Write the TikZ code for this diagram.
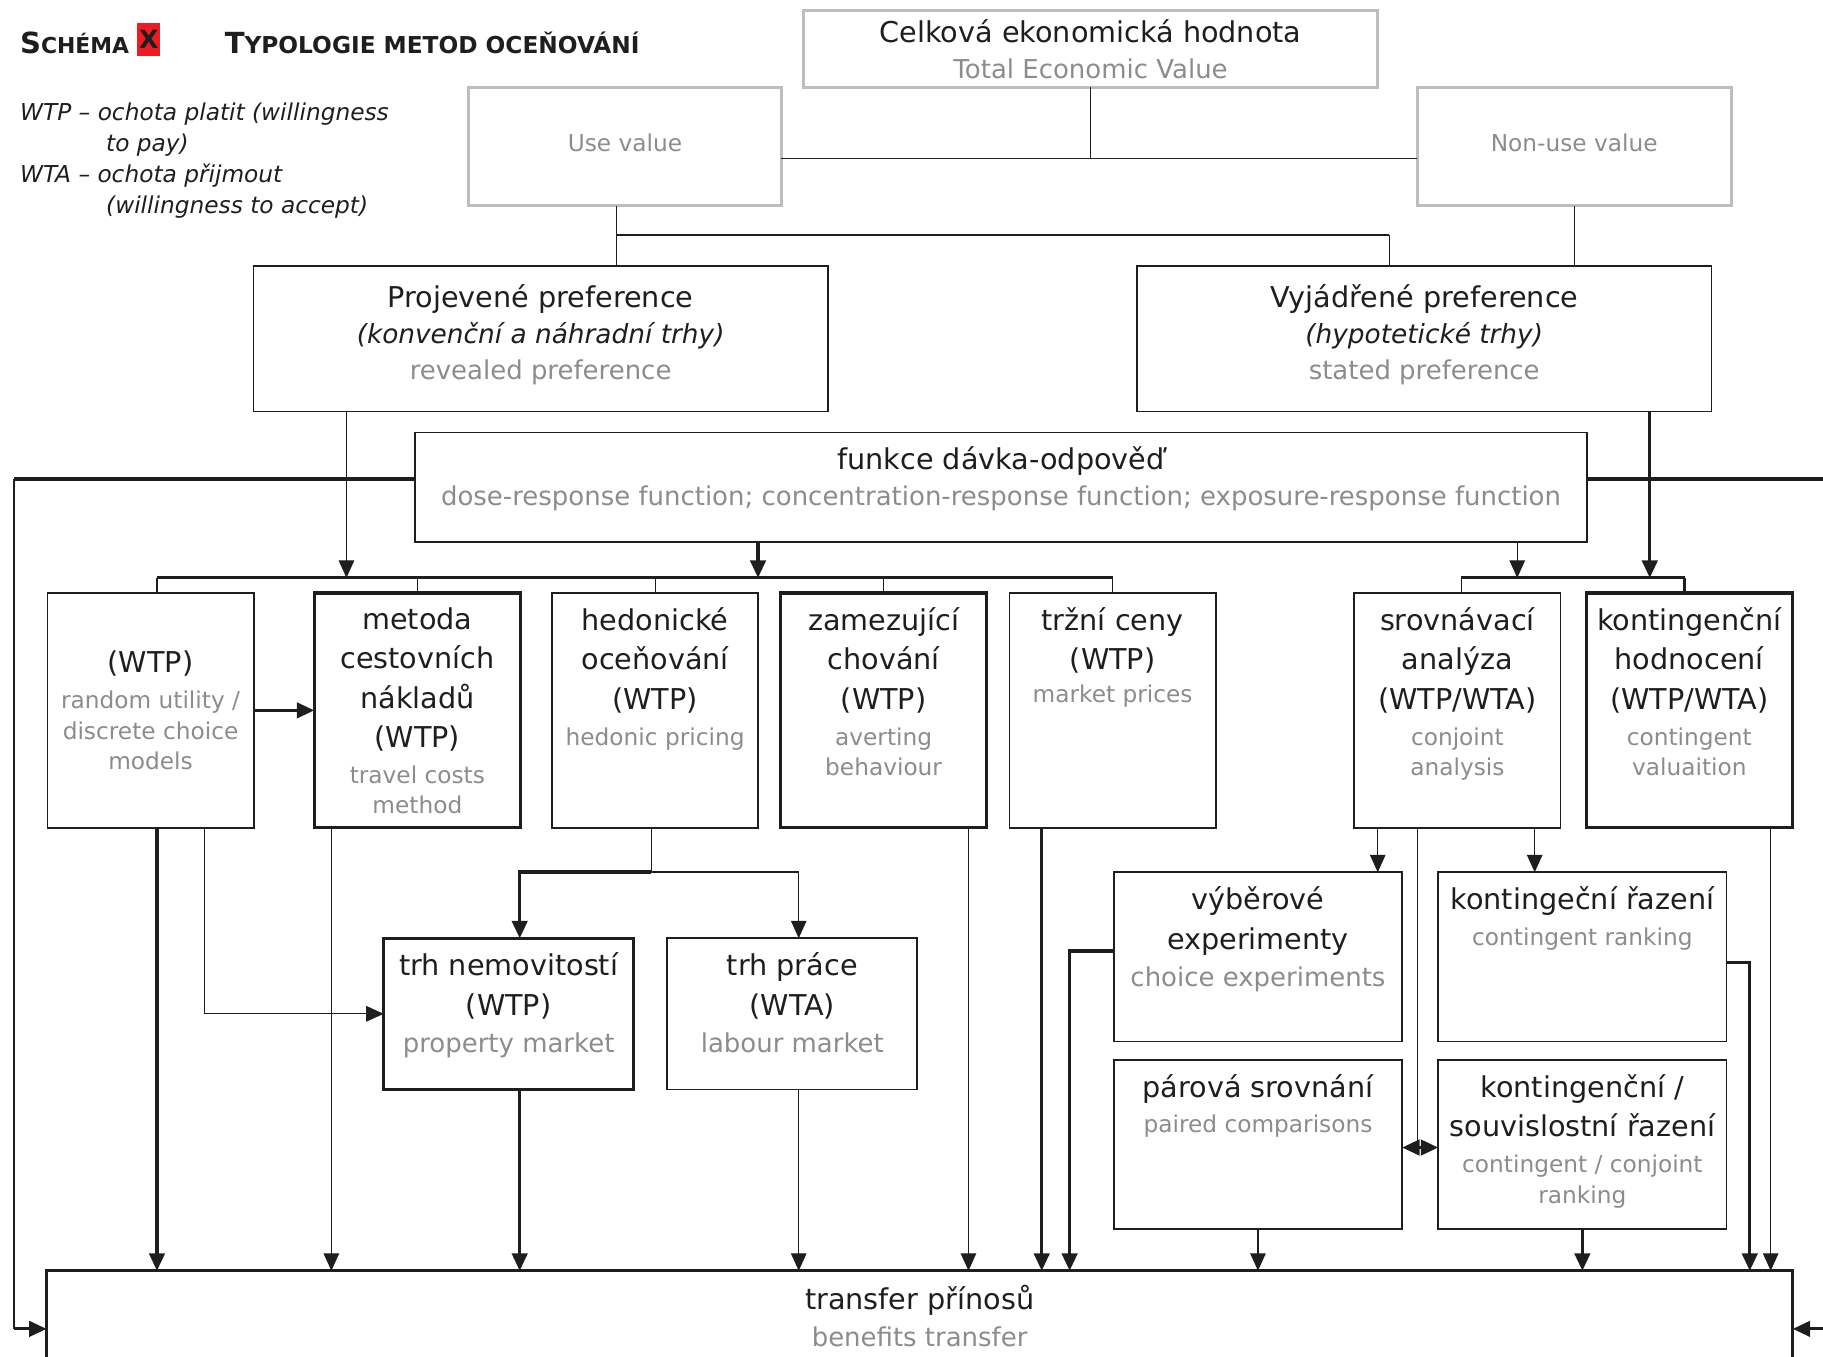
\documentclass[tikz,border=0pt]{standalone}
\usepackage{fontspec}
\setmainfont{DejaVu Sans}
\usepackage{xcolor}
\usepackage{tikz}
\usetikzlibrary{arrows.meta,positioning}

\definecolor{ink}{RGB}{30,30,30}
\definecolor{engray}{RGB}{140,140,140}
\definecolor{valgray}{RGB}{190,190,190}
\definecolor{schemared}{RGB}{237,28,36}

\newcommand{\en}[1]{{\color{engray}\fontsize{12}{15}\selectfont #1}}
\newcommand{\enl}[1]{{\color{engray}\fontsize{13.4}{16}\selectfont #1}}
\newcommand{\czit}[1]{{\itshape\fontsize{13.6}{16}\selectfont #1}}
\newcommand{\capsmall}[3][12]{{\fontsize{15}{18}\selectfont #2}{\fontsize{#1}{14}\selectfont #3}}

\begin{document}
\begin{tikzpicture}[
    x=0.6pt, y=-0.6pt,
    box/.style={rectangle, draw=ink, line width=0.9pt, inner sep=0pt, outer sep=0pt, align=center, text=ink, font=\fontsize{14.8}{20.4}\selectfont},
    valbox/.style={box, draw=valgray, line width=1.4pt},
    heavy/.style={line width=1.6pt},
    methodbox/.style={box, minimum width=106.5pt, minimum height=121.2pt},
    marketbox/.style={box, minimum width=129pt, minimum height=78pt},
    rankbox/.style={box, minimum width=148.8pt, minimum height=87.3pt},
    txt/.style={align=center, inner sep=0pt, text=ink, font=\fontsize{14.8}{20.4}\selectfont},
    wire/.style={draw=ink, line width=0.6pt},
    bus/.style={draw=ink, line width=1.6pt},
    arrow/.style={wire, -{Triangle[length=9pt, width=8pt]}},
    tarrow/.style={bus, -{Triangle[length=9pt, width=8pt]}}
]
    \useasboundingbox (0,0) rectangle (1568,1167);
    \clip (0,0) rectangle (1568,1167);

    % Heading and legend
    \node[anchor=base west, inner sep=0pt, text=ink, font=\bfseries] (schema) at (17,46) {\capsmall[11.3]{S}{CHÉMA}};
    \node[fill=schemared, inner sep=0pt, minimum width=12pt, minimum height=16.8pt, text=ink, font=\bfseries\fontsize{13}{15}\selectfont] (xmark) at (128,34) {X};
    \node[anchor=base west, inner sep=0pt, text=ink, font=\bfseries] (title) at (193,46) {\capsmall{T}{YPOLOGIE METOD OCEŇOVÁNÍ}};
    \node[anchor=north west, align=left, inner sep=0pt, text=ink, font=\itshape\fontsize{12}{16}\selectfont] (legend) at (17,88) {WTP – ochota platit (willingness\\\hspace*{44.4pt}to pay)\\WTA – ochota přijmout\\\hspace*{44.4pt}(willingness to accept)};

    % Top layer - total economic value
    \node[valbox, minimum width=296.4pt, minimum height=39.6pt] (tev) at (938,42) {Celková ekonomická hodnota\\[-1.8pt]\enl{Total Economic Value}};
    \node[valbox, minimum width=161.4pt, minimum height=61.2pt] (use) at (537.5,126) {};
    \node[txt, yshift=1.8pt] (use-t) at (use.center) {\en{Use value}};
    \node[valbox, minimum width=162pt, minimum height=61.2pt] (nonuse) at (1354,126) {};
    \node[txt, yshift=1.8pt] (nonuse-t) at (nonuse.center) {\en{Non-use value}};

    % Preference layer
    \node[box, minimum width=296.4pt, minimum height=75pt] (proj) at (465,291.5) {};
    \node[txt, below=9pt of proj.north] (proj-t) {Projevené preference\\[-1.8pt]\czit{(konvenční a náhradní trhy)}\\[-1.8pt]\enl{revealed preference}};
    \node[box, minimum width=296.4pt, minimum height=75pt] (vyj) at (1225,291.5) {};
    \node[txt, below=9pt of vyj.north] (vyj-t) {Vyjádřené preference\\[-1.8pt]\czit{(hypotetické trhy)}\\[-1.8pt]\enl{stated preference}};
    \node[box, minimum width=604.8pt, minimum height=56.4pt] (dose) at (861,419) {};
    \node[txt, below=7.2pt of dose.north] (dose-t) {funkce dávka-odpověď\\[-1.8pt]\enl{dose-response function; concentration-response function; exposure-response function}};

    % Method layer
    \node[methodbox] (wtp) at (129.5,611) {(WTP)\\[-1.8pt]\en{random utility /}\\[-4.8pt]\en{discrete choice}\\[-4.8pt]\en{models}};
    \node[methodbox, heavy] (tcm) at (359,611) {};
    \node[txt, below=7.2pt of tcm.north] (tcm-t) {metoda\\cestovních\\nákladů\\(WTP)\\[-1.8pt]\en{travel costs}\\[-4.8pt]\en{method}};
    \node[methodbox] (hed) at (563.5,611) {};
    \node[txt, below=7.2pt of hed.north] (hed-t) {hedonické\\oceňování\\(WTP)\\[-1.8pt]\en{hedonic pricing}};
    \node[methodbox, heavy] (avert) at (760,611) {};
    \node[txt, below=7.2pt of avert.north] (avert-t) {zamezující\\chování\\(WTP)\\[-1.8pt]\en{averting}\\[-4.8pt]\en{behaviour}};
    \node[methodbox] (market) at (957,611) {};
    \node[txt, below=7.2pt of market.north] (market-t) {tržní ceny\\(WTP)\\[-3.6pt]\en{market prices}};
    \node[methodbox] (conj) at (1253.5,611) {};
    \node[txt, below=7.2pt of conj.north] (conj-t) {srovnávací\\analýza\\(WTP/WTA)\\[-1.8pt]\en{conjoint}\\[-4.8pt]\en{analysis}};
    \node[methodbox, heavy] (cv) at (1453,611) {};
    \node[txt, below=7.2pt of cv.north] (cv-t) {kontingenční\\hodnocení\\(WTP/WTA)\\[-1.8pt]\en{contingent}\\[-4.8pt]\en{valuaition}};

    % Hedonic markets
    \node[marketbox, heavy] (prop) at (437.5,872) {};
    \node[txt, below=7.2pt of prop.north] (prop-t) {trh nemovitostí\\(WTP)\\[-1.2pt]\enl{property market}};
    \node[marketbox] (labour) at (681.5,872) {};
    \node[txt, below=7.2pt of labour.north] (labour-t) {trh práce\\(WTA)\\[-1.2pt]\enl{labour market}};

    % Stated preference techniques
    \node[rankbox] (choice) at (1082,823) {};
    \node[txt, below=7.2pt of choice.north] (choice-t) {výběrové\\experimenty\\[-1.2pt]\enl{choice experiments}};
    \node[rankbox] (crank) at (1361,823) {};
    \node[txt, below=7.2pt of crank.north] (crank-t) {kontingeční řazení\\[-1.8pt]\en{contingent ranking}};
    \node[rankbox] (paired) at (1082,984.5) {};
    \node[txt, below=7.2pt of paired.north] (paired-t) {párová srovnání\\[-2.4pt]\en{paired comparisons}};
    \node[rankbox] (ccrank) at (1361,984.5) {};
    \node[txt, below=7.2pt of ccrank.north] (ccrank-t) {kontingenční /\\souvislostní řazení\\[-1.8pt]\en{contingent / conjoint}\\[-4.8pt]\en{ranking}};

    % Bottom layer
    \node[box, heavy, minimum width=901.2pt, minimum height=60pt] (transfer) at (791,1143) {};
    \node[txt, below=7.2pt of transfer.north] (transfer-t) {transfer přínosů\\[-1.2pt]\enl{benefits transfer}};

    % Junction points
    \coordinate (tj) at (943,136);
    \coordinate (uj) at (530,202);
    \coordinate (uk) at (1195,202);
    \coordinate (bl) at (135,497);
    \coordinate (br) at (957,497);
    \coordinate (sl) at (1257,497);
    \coordinate (sr) at (1449,497);
    \coordinate (pa) at (298,0);
    \coordinate (da) at (652,0);
    \coordinate (db) at (1305,0);
    \coordinate (va) at (1419,0);
    \coordinate (dl) at (12,412);
    \coordinate (dr) at (1590,412);
    \coordinate (wa) at (176,0);
    \coordinate (hj) at (560,750);
    \coordinate (pj) at (447,750);
    \coordinate (lj) at (687,750);
    \coordinate (cj) at (1185,0);
    \coordinate (rj) at (1320,0);
    \coordinate (mj) at (1219,987);
    \coordinate (ta) at (285,0);
    \coordinate (tb) at (833,0);
    \coordinate (tc) at (896,0);
    \coordinate (td) at (920,818);
    \coordinate (te) at (1505,828);
    \coordinate (tf) at (1523,0);

    % Value tree
    \draw[wire] (use.east |- tj) -- (nonuse.west |- tj);
    \draw[wire] (tev.south) -- (tev.south |- tj);
    \draw[wire] (uj |- use.south) -- (uj |- proj.north);
    \draw[wire, line width=1pt] (uj) -- (uk);
    \draw[wire] (uk) -- (uk |- vyj.north);
    \draw[wire] (nonuse.south) -- (nonuse.south |- vyj.north);

    % Bars above the methods
    \draw[bus] (bl) -- (br);
    \draw[bus] (sl) -- (sr);
    \draw[wire] (bl) -- (bl |- wtp.north);
    \draw[wire] (tcm.north) -- (tcm.north |- bl);
    \draw[wire] (hed.north) -- (hed.north |- bl);
    \draw[wire] (avert.north) -- (avert.north |- bl);
    \draw[wire] (br) -- (br |- market.north);
    \draw[wire] (sl) -- (sl |- conj.north);
    \draw[bus] (sr) -- (sr |- cv.north);
    \draw[arrow] (pa |- proj.south) -- (pa |- bl);
    \draw[tarrow] (da |- dose.south) -- (da |- bl);
    \draw[arrow] (db |- dose.south) -- (db |- sl);
    \draw[tarrow] (va |- vyj.south) -- (va |- sl);

    % Dose-response links to benefits transfer
    \draw[bus] (dose.west |- dl) -- (dl);
    \draw[wire] (dl) -- (dl |- transfer.west);
    \draw[tarrow] (dl |- transfer.west) -- (transfer.west);
    \draw[bus] (dose.east |- dr) -- (dr);
    \draw[tarrow] (dr) |- (transfer.east);

    % Revealed preference links
    \draw[tarrow] (wtp.east) -- (tcm.west);
    \draw[arrow] (wa |- wtp.south) |- (prop.west);
    \draw[wire] (hj |- hed.south) -- (hj);
    \draw[tarrow] (hj) -- (pj) -- (pj |- prop.north);
    \draw[arrow] (hj) -- (lj) -- (lj |- labour.north);

    % Stated preference links
    \draw[arrow] (cj |- conj.south) -- (cj |- choice.north);
    \draw[arrow] (rj |- conj.south) -- (rj |- crank.north);
    \draw[wire] (mj |- conj.south) -- (mj);
    \draw[tarrow] (mj) -- (mj -| paired.east);
    \draw[tarrow] (mj) -- (mj -| ccrank.west);

    % Arrows into benefits transfer
    \draw[tarrow] (bl |- wtp.south) -- (bl |- transfer.north);
    \draw[arrow] (ta |- tcm.south) -- (ta |- transfer.north);
    \draw[tarrow] (pj |- prop.south) -- (pj |- transfer.north);
    \draw[arrow] (lj |- labour.south) -- (lj |- transfer.north);
    \draw[arrow] (tb |- avert.south) -- (tb |- transfer.north);
    \draw[tarrow] (tc |- market.south) -- (tc |- transfer.north);
    \draw[tarrow] (choice.west |- td) -| (td |- transfer.north);
    \draw[arrow] (paired.south) -- (paired.south |- transfer.north);
    \draw[tarrow] (ccrank.south) -- (ccrank.south |- transfer.north);
    \draw[tarrow] (crank.east |- te) -| (te |- transfer.north);
    \draw[arrow] (tf |- cv.south) -- (tf |- transfer.north);
\end{tikzpicture}
\end{document}
